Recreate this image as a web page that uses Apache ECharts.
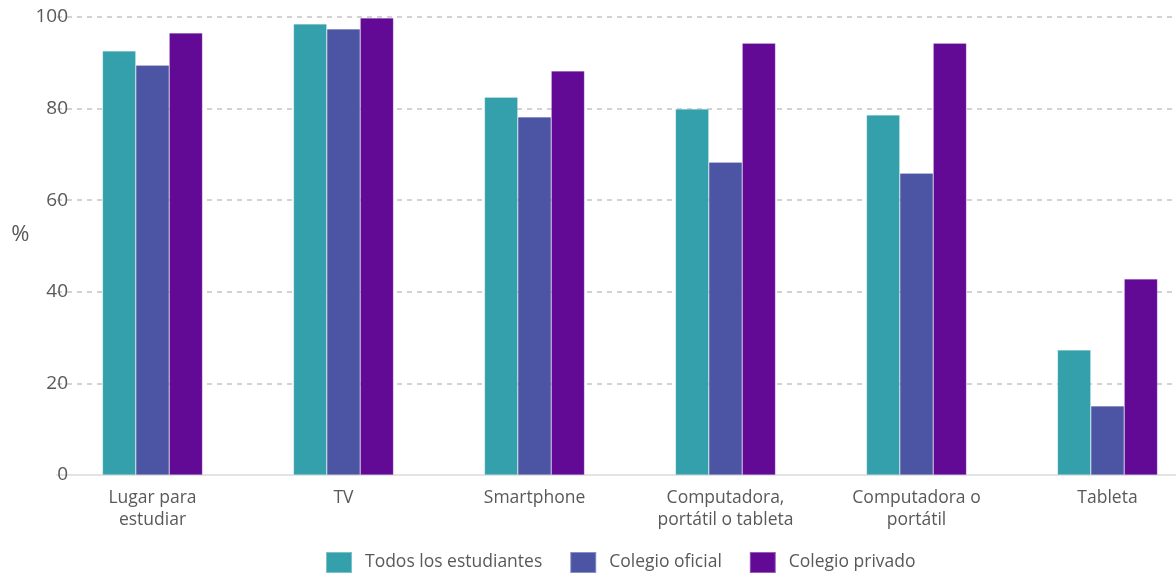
<!DOCTYPE html>
<html>
<head>
<meta charset="utf-8">
<script src="https://cdn.jsdelivr.net/npm/echarts@6/dist/echarts.min.js"></script>
<style>
  html, body { margin: 0; padding: 0; background: #fff; }
  #chart { width: 1176px; height: 574px; }
</style>
</head>
<body>
<div id="chart"></div>
<script>
// categorias y valores (%)
var categorias = ['Lugar para\nestudiar', 'TV', 'Smartphone', 'Computadora,\nportátil o tableta', 'Computadora o\nportátil', 'Tableta'];
var todos = [92.6, 98.5, 82.5, 79.9, 78.6, 27.3];
var oficial = [89.5, 97.4, 78.2, 68.3, 65.9, 15.1];
var privado = [96.5, 99.8, 88.2, 94.3, 94.3, 42.8];
var nombres = ['Todos los estudiantes', 'Colegio oficial', 'Colegio privado'];
var colores = ['#34a0ac', '#4b55a3', '#620a96'];

var myChart = echarts.init(document.getElementById('chart'));

function serie(i, data) {
    return {
        name: nombres[i],
        type: 'bar',
        data: data,
        barGap: 0,
        barCategoryGap: '47.6%',
        itemStyle: {
            color: colores[i],
            borderColor: 'rgba(255,255,255,0.35)',
            borderWidth: 0.6
        }
    };
}

var option = {
    animation: false,
    textStyle: { fontFamily: 'Open Sans' },
    color: colores,
    // la rejilla sigue mas alla del borde derecho, como en el original
    grid: { left: 57, width: 1146, top: 17, bottom: 99, outerBoundsMode: 'none', containLabel: false },
    legend: {
        bottom: 0,
        left: 325,
        padding: 0,
        itemWidth: 26,
        itemHeight: 21,
        itemGap: 27,
        icon: 'rect',
        textStyle: { color: '#595959', fontSize: 17.5, padding: [0, 0, 0, 8] },
        data: nombres
    },
    xAxis: {
        type: 'category',
        data: categorias,
        axisLine: { lineStyle: { color: '#e3e3e3', width: 2 } },
        axisTick: { show: false },
        axisLabel: { color: '#595959', fontSize: 17.5, lineHeight: 22, margin: 12 }
    },
    yAxis: {
        type: 'value',
        min: 0,
        max: 100,
        interval: 20,
        name: '%',
        nameLocation: 'middle',
        nameRotate: 0,
        nameGap: 27,
        nameTextStyle: { color: '#595959', fontSize: 22, verticalAlign: 'bottom' },
        axisLabel: { color: '#595959', fontSize: 19, margin: -11 },
        splitLine: { lineStyle: { color: '#c4c4c4', type: [5, 5], width: 1.5 } }
    },
    series: [serie(0, todos), serie(1, oficial), serie(2, privado)]
};

myChart.setOption(option);
</script>
</body>
</html>
